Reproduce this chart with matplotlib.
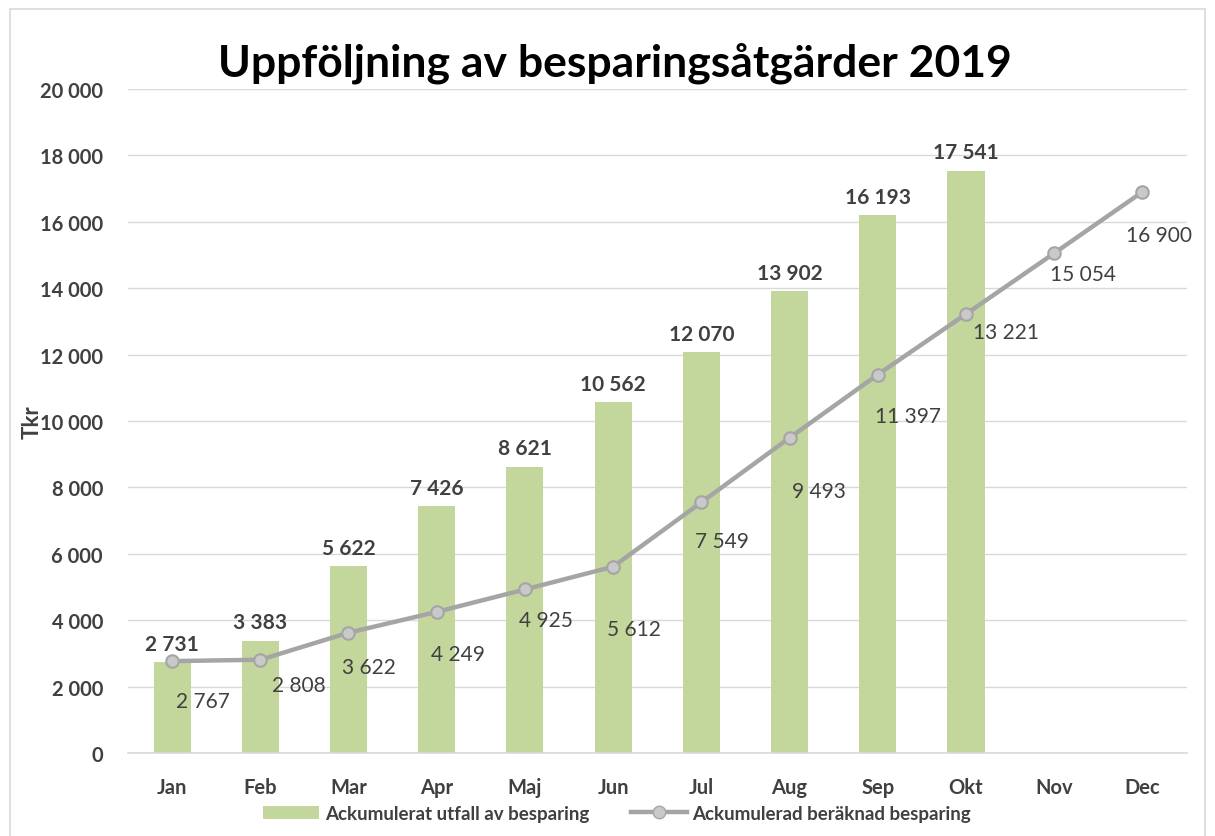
import matplotlib.pyplot as plt
import matplotlib.ticker as ticker
from matplotlib.lines import Line2D
from matplotlib.patches import Patch, Rectangle

plt.rcParams["font.family"] = ["Lato", "DejaVu Sans"]

months = ["Jan", "Feb", "Mar", "Apr", "Maj", "Jun", "Jul", "Aug", "Sep", "Okt", "Nov", "Dec"]
utfall = [2731, 3383, 5622, 7426, 8621, 10562, 12070, 13902, 16193, 17541]
beraknad = [2767, 2808, 3622, 4249, 4925, 5612, 7549, 9493, 11397, 13221, 15054, 16900]

# label offsets (points) for the line labels, as placed in the original
line_label_offsets = [(22, -29), (28, -18), (15, -25), (15, -30), (15, -22), (15, -45),
                      (15, -28), (21, -38), (22, -30), (29, -13), (21, -15), (12, -31)]

C_BAR = "#C3D69B"
C_LINE = "#A5A5A5"
C_TEXT = "#404040"
C_GRID = "#D9D9D9"


def fmt(v):
    return f"{v:,}".replace(",", " ")


fig = plt.figure(figsize=(12.15, 8.37), dpi=100)
ax = fig.add_axes([0.1053, 0.0992, 0.8713, 0.7933])

x = range(len(months))
xb = range(len(utfall))
ax.bar(xb, utfall, width=0.42, color=C_BAR, zorder=2)
ax.plot(x, beraknad, color=C_LINE, linewidth=3.2, marker="o", markersize=9,
        markerfacecolor="#C9C9C9", markeredgecolor=C_LINE, markeredgewidth=1.5, zorder=3)

for i, v in enumerate(utfall):
    ax.annotate(fmt(v), (i, v), xytext=(0, 6), textcoords="offset points",
                ha="center", va="bottom", fontsize=15, fontweight="bold", color=C_TEXT)
for i, v in enumerate(beraknad):
    dx, dy = line_label_offsets[i]
    ax.annotate(fmt(v), (i, v), xytext=(dx, dy), textcoords="offset points",
                ha="center", va="center", fontsize=15, color=C_TEXT, zorder=4)

ax.set_xlim(-0.5, len(months) - 0.5)
ax.set_ylim(0, 20000)
ax.set_yticks(range(0, 20001, 2000))
ax.yaxis.set_major_formatter(ticker.FuncFormatter(lambda v, p: fmt(int(v))))
ax.set_xticks(list(x))
ax.set_xticklabels(months)
ax.tick_params(axis="both", length=0, labelsize=14.5, colors=C_TEXT)
ax.tick_params(axis="x", pad=17)
ax.tick_params(axis="y", pad=18)
for lbl in ax.get_xticklabels() + ax.get_yticklabels():
    lbl.set_fontweight("bold")

ax.grid(axis="y", color=C_GRID, linewidth=1, zorder=0)
ax.set_axisbelow(True)
for s in ["top", "left", "right"]:
    ax.spines[s].set_visible(False)
ax.spines["bottom"].set_color(C_GRID)
ax.spines["bottom"].set_linewidth(1.2)

ax.set_ylabel("Tkr", fontsize=16, fontweight="bold", color=C_TEXT)
ax.yaxis.set_label_coords(-0.081, 0.5)

fig.text(0.506, 0.925, "Uppföljning av besparingsåtgärder 2019", ha="center", va="center",
         fontsize=32, fontweight="bold", color="#000000")

handles = [
    Patch(facecolor=C_BAR, label="Ackumulerat utfall av besparing"),
    Line2D([0], [0], color=C_LINE, linewidth=3.2, marker="o", markersize=9,
           markerfacecolor="#C9C9C9", markeredgecolor=C_LINE,
           label="Ackumulerad beräknad besparing"),
]
leg = fig.legend(handles=handles, loc="center", bbox_to_anchor=(0.508, 0.027), ncol=2,
                 frameon=False, fontsize=13.5, handlelength=3.0, columnspacing=2.2,
                 handletextpad=0.3)
for t in leg.get_texts():
    t.set_fontweight("bold")
    t.set_color(C_TEXT)

fig.patches.append(Rectangle((10 / 1215, -0.01), 1195 / 1215, 1 - 10 / 837 + 0.01,
                             transform=fig.transFigure, fill=False,
                             edgecolor="#D9D9D9", linewidth=1.2))

fig.savefig("out.png", dpi=100)
